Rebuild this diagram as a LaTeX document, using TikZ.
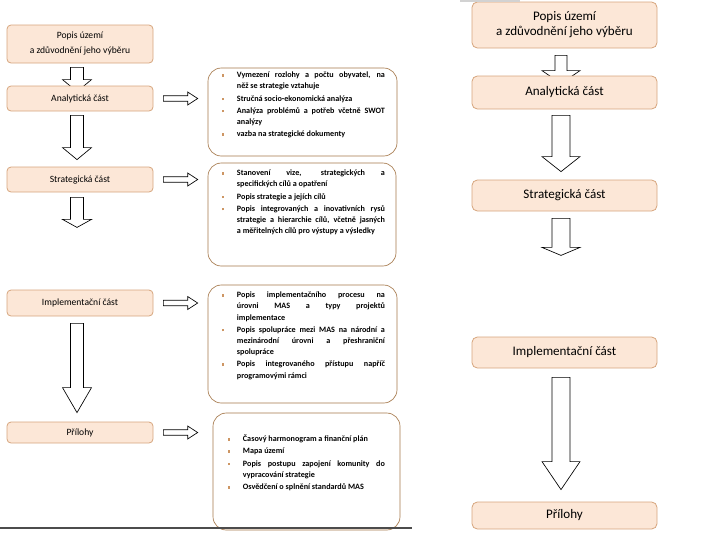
\documentclass[tikz,border=0pt]{standalone}
\usepackage{fontspec}
\setmainfont{Carlito}
\usetikzlibrary{calc}
\pgfdeclarelayer{bg}
\pgfsetlayers{bg,main}
\definecolor{boxfill}{RGB}{252,231,215}
\definecolor{boxline}{RGB}{214,165,125}
\definecolor{tline}{RGB}{165,120,75}
\definecolor{bulc}{RGB}{205,150,100}
\newcommand\bul{\leavevmode\llap{\textcolor{bulc}{\raisebox{0.7pt}{\rule{2pt}{2pt}}}\hspace{9.5pt}}}
\newcommand\listsetup{\parindent=0pt\parskip=0.8pt\hyphenpenalty=10000\exhyphenpenalty=10000\emergencystretch=10pt}
% #1 start, #2 tip, #3 head length px, #4 half shaft px, #5 half head px
\newcommand\blockdn[5]{%
\draw[barrow] let \p1=#1, \p2=#2 in
 (\x2-#4*0.75pt,\y1) -- (\x2+#4*0.75pt,\y1) -- (\x2+#4*0.75pt,\y2+#3*0.75pt)
 -- (\x2+#5*0.75pt,\y2+#3*0.75pt) -- (\x2,\y2) -- (\x2-#5*0.75pt,\y2+#3*0.75pt)
 -- (\x2-#4*0.75pt,\y2+#3*0.75pt) -- cycle;}
\newcommand\blockrt[5]{%
\draw[barrow] let \p1=#1, \p2=#2 in
 (\x1,\y2+#4*0.75pt) -- (\x1,\y2-#4*0.75pt) -- (\x2-#3*0.75pt,\y2-#4*0.75pt)
 -- (\x2-#3*0.75pt,\y2-#5*0.75pt) -- (\x2,\y2) -- (\x2-#3*0.75pt,\y2+#5*0.75pt)
 -- (\x2-#3*0.75pt,\y2+#4*0.75pt) -- cycle;}
\begin{document}
\begin{tikzpicture}[x=0.75pt,y=-0.75pt,
 lbox/.style={draw=boxline, fill=boxfill, rounded corners=3pt, line width=0.6pt,
   minimum width=109.5pt, inner sep=0pt, font=\fontsize{7.2}{11.25}\selectfont, align=center},
 rbox/.style={draw=boxline, fill=boxfill, rounded corners=4pt, line width=0.6pt,
   minimum width=138.75pt, inner sep=0pt, font=\fontsize{9.8}{11.25}\selectfont, align=center},
 tbox/.style={draw=tline, rounded corners=10pt, line width=0.5pt, inner sep=0pt},
 ttext/.style={anchor=north west, inner sep=0pt, text width=111pt, align=justify,
   font=\fontsize{6.1}{8.4}\selectfont\bfseries},
 barrow/.style={draw=black, fill=white, line width=0.5pt, line join=miter}]
\useasboundingbox (0,0) rectangle (720,540);

% left column boxes
\node[lbox, minimum height=28.5pt] (L0) at (80,44) {Popis území\\a zdůvodnění jeho výběru};
\node[lbox, minimum height=18.75pt] (L1) at (80,98.5) {Analytická část};
\node[lbox, minimum height=18.75pt] (L2) at (80,179.5) {Strategická část};
\node[lbox, minimum height=19.5pt] (L3) at (80,303) {Implementační část};
\node[lbox, minimum height=15.75pt] (L4) at (80,432.5) {Přílohy};

% text boxes
\node[tbox, minimum width=141.75pt, minimum height=66pt] (T1) at (302.5,112) {};
\node[tbox, minimum width=141pt, minimum height=77.25pt] (T2) at (302,214.5) {};
\node[tbox, minimum width=141.75pt, minimum height=88.5pt] (T3) at (302.5,344) {};
\node[tbox, minimum width=140.25pt, minimum height=87.75pt] (T4) at (306.5,471.5) {};

\node[ttext] (X1) at ($(T1.north west)+(29,4)$) {\listsetup
\bul Vymezení rozlohy a počtu obyvatel, na\linebreak něž se strategie vztahuje\par
\bul Stručná socio-ekonomická analýza\par
\bul Analýza problémů a potřeb včetně SWOT\linebreak analýzy\par
\bul vazba na strategické dokumenty};
\node[ttext] (X2) at ($(T2.north west)+(29,7)$) {\listsetup
\bul Stanovení vize, strategických a\linebreak specifických cílů a opatření\par
\bul Popis strategie a jejích cílů\par
\bul Popis integrovaných a inovativních rysů\linebreak strategie a hierarchie cílů, včetně jasných\linebreak a měřitelných cílů pro výstupy a výsledky};
\node[ttext] (X3) at ($(T3.north west)+(29,7)$) {\listsetup
\bul Popis implementačního procesu na\linebreak úrovni MAS a typy projektů\linebreak implementace\par
\bul Popis spolupráce mezi MAS na národní a\linebreak mezinárodní úrovni a přeshraniční\linebreak spolupráce\par
\bul Popis integrovaného přístupu napříč\linebreak programovými rámci};
\node[ttext, text width=106.5pt] (X4) at ($(T4.north west)+(30,22)$) {\listsetup
\bul Časový harmonogram a finanční plán\par
\bul Mapa území\par
\bul Popis postupu zapojení komunity do\linebreak vypracování strategie\par
\bul Osvědčení o splnění standardů MAS};

% right column boxes
\node[rbox, minimum height=34.5pt] (R0) at (564.5,25) {Popis území\\a zdůvodnění jeho výběru};
\node[rbox, minimum height=24.75pt] (R1) at (564.5,92.5) {Analytická část};
\node[rbox, minimum height=23.25pt] (R2) at (564.5,195.5) {Strategická část};
\node[rbox, minimum height=23.25pt] (R3) at (564.5,352.5) {Implementační část};
\node[rbox, minimum height=20.25pt] (R4) at (564.5,515.5) {Přílohy};

\coordinate (L2end) at ($(L2.south)+(-3,35)$);
\coordinate (R2end) at ($(R2.south)+(-3.5,44)$);

\begin{pgfonlayer}{bg}
% left column down arrows
\blockdn{($(L0.south)+(-3,4)$)}{($(L1.north)+(-3,6)$)}{12}{6.5}{14.5}
\blockdn{($(L1.south)+(-3,4)$)}{($(L2.north)+(-3,-7)$)}{12}{6.5}{14.5}
\blockdn{($(L2.south)+(-3,5)$)}{(L2end)}{8}{6.5}{14.5}
\blockdn{($(L3.south)+(-3,7)$)}{($(L4.north)+(-3,-9)$)}{25}{6.5}{14.5}
% left column right arrows
\blockrt{($(L1.east)+(10,0)$)}{($(L1.east -| T1.west)+(-10,0)$)}{10}{2.8}{6.5}
\blockrt{($(L2.east)+(10,0)$)}{($(L2.east -| T2.west)+(-10,0)$)}{10}{2.8}{6.5}
\blockrt{($(L3.east)+(10,0)$)}{($(L3.east -| T3.west)+(-10,0)$)}{10}{2.8}{6.5}
\blockrt{($(L4.east)+(10,0)$)}{($(L4.east -| T4.west)+(-15,0)$)}{10}{2.8}{6.5}
% right column down arrows
\blockdn{($(R0.south)+(-3.5,7)$)}{($(R1.north)+(-3.5,8)$)}{13}{6}{19}
\blockdn{($(R1.south)+(-3.5,6)$)}{($(R2.north)+(-3.5,-8)$)}{15}{9}{19}
\blockdn{($(R2.south)+(-3.5,7)$)}{(R2end)}{8}{9}{19}
\blockdn{($(R3.south)+(-3.5,9)$)}{($(R4.north)+(-3.5,-12)$)}{28}{9}{19}
\end{pgfonlayer}

% decorations
\fill[gray!35] (460,0) rectangle (520,2);
\draw[line width=1.2pt, black!70] (0,528) -- (412,528);
\end{tikzpicture}
\end{document}
